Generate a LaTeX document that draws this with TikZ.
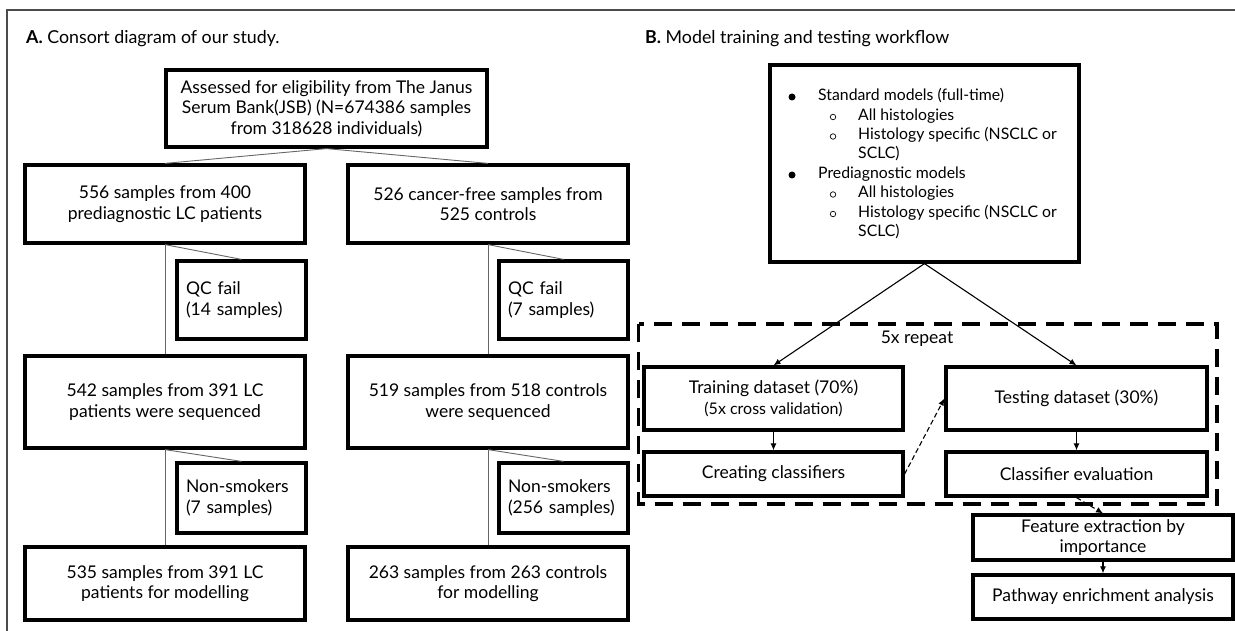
\documentclass[tikz,border=0pt]{standalone}
\usepackage{fontspec}
\setmainfont{Lato}
\usetikzlibrary{arrows.meta}
\newcommand\fmain{\fontsize{17.5}{20.5}\selectfont}
\newcommand\ftitle{\fontsize{17.8}{21}\selectfont}
\newcommand\fsmall{\fontsize{16}{18}\selectfont}
\newcommand\flist{\fontsize{15.8}{19.4}\selectfont}
\tikzset{
  box/.style={draw=black, line width=3.2pt, align=center, font=\fmain, inner sep=2pt},
  sidebox/.style={draw=black, line width=3.2pt, align=left, font=\fmain, text width=111pt, inner xsep=9pt, inner ysep=2pt},
  thin/.style={draw=black!60, line width=0.9pt},
  arr/.style={draw=black, line width=1.1pt, -{Latex[length=7pt,width=6pt]}},
  darr/.style={arr, dash pattern=on 5pt off 3pt},
  rep/.style={draw=black, line width=3.2pt, dash pattern=on 18pt off 10pt},
  frame/.style={draw=black!70, line width=1.3pt},
  listline/.style={anchor=west, font=\flist, inner sep=0pt, text height=11pt, text depth=4pt},
  dot/.style={circle, fill=black, inner sep=0pt, minimum size=7pt},
  odot/.style={circle, draw=black, line width=0.7pt, inner sep=0pt, minimum size=5.5pt},
}
\begin{document}
\begin{tikzpicture}[x=1pt,y=-1pt]
\useasboundingbox (0,0) rectangle (1235,631);
\draw[frame] (7,631) -- (7,10) -- (1235,10);

% ---------- Panel A ----------
\node[anchor=west, font=\ftitle, inner sep=0pt] (titleA) at (26,39) {\textbf{A.} Consort diagram of our study.};

\node[box, minimum width=321pt, minimum height=77pt] (top) at (326.5,108.5)
  {Assessed for eligibility from The Janus\\Serum Bank(JSB) (N=674386 samples\\from 318628 individuals)};

\node[box, minimum width=280pt, minimum height=78pt] (L1) at (165,204) {556 samples from 400\\prediagnostic LC patients};
\node[box, minimum width=280pt, minimum height=78pt] (R1) at (488,204) {526 cancer-free samples from\\525 controls};

\node[sidebox, minimum height=78pt] (QCL) at (241.5,300) {QC fail\\(14 samples)};
\node[sidebox, minimum height=78pt] (QCR) at (563.5,300) {QC fail\\(7 samples)};

\node[box, minimum width=280pt, minimum height=92pt] (L2) at (165,402) {542 samples from 391 LC\\patients were sequenced};
\node[box, minimum width=280pt, minimum height=92pt] (R2) at (488,402) {519 samples from 518 controls\\were sequenced};

\node[sidebox, minimum height=70pt] (NSL) at (241.5,498) {Non-smokers\\(7 samples)};
\node[sidebox, minimum height=70pt] (NSR) at (563.5,498) {Non-smokers\\(256 samples)};

\node[box, minimum width=280pt, minimum height=73pt] (L3) at (165,583.5) {535 samples from 391 LC\\patients for modelling};
\node[box, minimum width=280pt, minimum height=73pt] (R3) at (488,583.5) {263 samples from 263 controls\\for modelling};

\draw[thin] (top.south) -- (L1.north);
\draw[thin] (top.south) -- (R1.north);
\draw[thin] (L1.south) -- (L2.north);
\draw[thin] (L2.south) -- (L3.north);
\draw[thin] (R1.south) -- (R2.north);
\draw[thin] (R2.south) -- (R3.north);
\draw[thin] (L1.south) -- (QCL.north);
\draw[thin] (R1.south) -- (QCR.north);
\draw[thin] (L2.south) -- (NSL.north);
\draw[thin] (R2.south) -- (NSR.north);

% ---------- Panel B ----------
\node[anchor=west, font=\ftitle, inner sep=0pt] (titleB) at (645,39) {\textbf{B.} Model training and testing workflow};

\node[box, minimum width=309pt, minimum height=197pt] (models) at (924.5,163.5) {};
\node[dot]  (b1) at (792,97) {};
\node[odot] (c1) at (833,117) {};
\node[odot] (c2) at (833,136.5) {};
\node[dot]  (b2) at (792,175) {};
\node[odot] (c3) at (833,194.5) {};
\node[odot] (c4) at (833,214) {};
\node[listline] (m1) at (818,97)  {Standard models (full-time)};
\node[listline] (m2) at (858,117) {All histologies};
\node[listline] (m3) at (858,136.5) {Histology specific (NSCLC or};
\node[listline] (m4) at (858,155.5) {SCLC)};
\node[listline] (m5) at (818,175) {Prediagnostic models};
\node[listline] (m6) at (858,194.5) {All histologies};
\node[listline] (m7) at (858,214) {Histology specific (NSCLC or};
\node[listline] (m8) at (858,233) {SCLC)};

\draw[rep] (638.5,324) rectangle (1217,504);
\node[font=\fmain, inner sep=0pt] (rlabel) at (917,339) {5x repeat};

\node[box, minimum width=259pt, minimum height=63pt] (train) at (773.5,398.5) {Training dataset (70\%)\\{\fsmall (5x cross validation)}};
\node[box, minimum width=261pt, minimum height=63pt] (test) at (1076.5,398.5) {Testing dataset (30\%)};
\node[box, minimum width=259pt, minimum height=44pt] (create) at (773.5,474) {Creating classifiers};
\node[box, minimum width=261pt, minimum height=44pt] (evalc) at (1076.5,474) {Classifier evaluation};
\node[box, minimum width=260pt, minimum height=45pt, inner sep=0pt] (feat) at (1103,537.5) {Feature extraction by\\importance};
\node[box, minimum width=260pt, minimum height=44pt] (pathw) at (1103,597) {Pathway enrichment analysis};

\draw[arr] (models.south) -- (train.north);
\draw[arr] (models.south) -- (test.north);
\draw[arr] (train.south) -- (create.north);
\draw[arr] (test.south) -- (evalc.north);
\draw[darr] (create.east) -- (test.west);
\draw[darr] (evalc.south) -- (feat.north);
\draw[arr] (feat.south) -- (pathw.north);
\end{tikzpicture}
\end{document}
